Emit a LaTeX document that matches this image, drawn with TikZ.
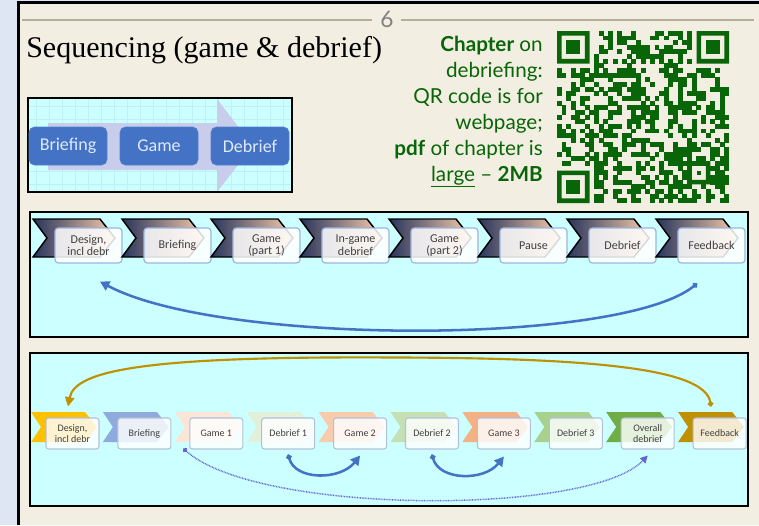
\documentclass[tikz,border=0pt]{standalone}
\usepackage{fontspec}
\setmainfont{Liberation Serif}
\newfontfamily\gill[Ligatures=TeX]{Lato}
\newfontfamily\cali{Carlito}
\usetikzlibrary{arrows.meta,calc}

\definecolor{paper}{RGB}{243,238,226}
\definecolor{strip}{RGB}{222,230,244}
\definecolor{rule}{RGB}{183,173,156}
\definecolor{qrgreen}{RGB}{8,102,8}
\definecolor{band}{RGB}{204,255,255}
\definecolor{gridc}{RGB}{190,240,244}
\definecolor{bigarrow}{RGB}{200,205,235}
\definecolor{boxblue}{RGB}{68,114,196}
\definecolor{boxtext}{RGB}{222,235,250}
\definecolor{labborder}{RGB}{157,181,224}
\definecolor{labborderB}{RGB}{180,192,218}
\definecolor{labtext}{RGB}{64,64,64}
\definecolor{chevdark}{RGB}{40,52,92}
\definecolor{chevlight}{RGB}{250,205,170}
\definecolor{cY}{RGB}{255,192,0}
\definecolor{cB}{RGB}{143,170,220}
\definecolor{cP1}{RGB}{251,229,214}
\definecolor{cG1}{RGB}{226,240,217}
\definecolor{cP2}{RGB}{248,203,173}
\definecolor{cG2}{RGB}{197,224,180}
\definecolor{cP3}{RGB}{244,177,131}
\definecolor{cG3}{RGB}{169,209,142}
\definecolor{cG4}{RGB}{112,173,71}
\definecolor{cD}{RGB}{191,144,0}
\definecolor{dotc}{RGB}{100,100,210}

\tikzset{
  greenline/.style={anchor=base east,inner sep=0pt,text=qrgreen,font=\gill\fontsize{15.5}{18}\selectfont},
  bluebox/.style={fill=boxblue,draw={rgb,255:red,85;green,128;blue,205},rounded corners=4pt,
    minimum width=58.5pt,minimum height=28.5pt,inner sep=0pt,text=boxtext,font=\cali\fontsize{13.5}{15}\selectfont},
  chevA/.style={left color=chevdark,right color=chevlight,draw=black,line width=1.1pt,line join=miter},
  labA/.style={draw=labborder,line width=0.9pt,fill=white,fill opacity=0.85,text opacity=1,
    rounded corners=2.5pt,minimum width=50.25pt,minimum height=26.25pt,inner sep=0pt,align=center,
    text=labtext,font=\cali\fontsize{9}{9.6}\selectfont},
  labB/.style={draw=labborderB,line width=0.8pt,fill=white,fill opacity=0.82,text opacity=1,
    rounded corners=2pt,minimum width=39.75pt,minimum height=23.25pt,inner sep=0pt,align=center,
    text=labtext,font=\cali\fontsize{7.5}{8.3}\selectfont},
  loopA/.style={draw=boxblue,line width=1.9pt,{Circle[length=4pt]}-{Triangle[length=7pt,width=7.5pt]}},
  loopB/.style={draw=cD,line width=1.6pt,{Circle[length=4pt]}-{Triangle[length=7pt,width=7pt]}},
  hop/.style={draw=boxblue,line width=1.9pt,{Circle[length=4pt]}-{Triangle[length=7pt,width=7.5pt]}},
  dotloop/.style={draw=dotc,line width=1.1pt,dash pattern=on 0.6pt off 0.6pt,
    {Circle[length=3.5pt]}-{Triangle[length=5.5pt,width=5.5pt]}},
}

\begin{document}
\begin{tikzpicture}[x=0.75pt,y=-0.75pt]
\useasboundingbox (0,0) rectangle (759,525);

% slide background and frame
\fill[strip] (0,0) rectangle (759,525);
\fill[paper] (18,2) rectangle (759,525);
\draw[line width=2.1pt] (18.5,525) -- (18.5,2.5) -- (759,2.5);

% header rule with page number
\draw[rule,line width=1.1pt] (22,20) -- (372,20);
\draw[rule,line width=1.1pt] (401,20) -- (754,20);
\node[text={rgb,255:red,130;green,130;blue,130},font=\gill\fontsize{17}{17}\selectfont,inner sep=0pt] (pg) at (387,19) {6};

% title
\node[anchor=base west,inner sep=0pt,font=\fontsize{22.5}{26}\selectfont] (title) at (26,57) {Sequencing (game \& debrief)};

% green note
\node[greenline] (g1) at (543,51) {\textbf{Chapter} on};
\node[greenline] (g2) at (543,77) {debriefing:};
\node[greenline] (g3) at (543,103) {QR code is for};
\node[greenline] (g4) at (543,129) {webpage;};
\node[greenline] (g5) at (543,155) {\textbf{pdf} of chapter is};
\node[greenline] (g6) at (543,181) {\underline{large} \textendash{} \textbf{2MB}};

% QR code
\def\qx{557}\def\qy{31}\def\qs{4.65}
\pgfmathsetseed{4711}
\foreach \qr in {0,...,36}{
  \foreach \qc in {0,...,36}{
    \pgfmathtruncatemacro\res{((\qr<8)&&(\qc<8))||((\qr<8)&&(\qc>28))||((\qr>28)&&(\qc<8))||((\qr>27)&&(\qr<33)&&(\qc>27)&&(\qc<33))||(\qr==6)||(\qc==6)}
    \ifnum\res=0
      \pgfmathtruncatemacro\bit{rnd<0.5}
      \ifnum\bit=1
        \fill[qrgreen] ({\qx+\qc*\qs-0.15},{\qy+\qr*\qs-0.15}) rectangle ++({\qs+0.3},{\qs+0.3});
      \fi
    \fi
  }
}
% finder patterns
\foreach \fr/\fc in {0/0,0/30,30/0}{
  \fill[qrgreen,even odd rule] ({\qx+\fc*\qs},{\qy+\fr*\qs}) rectangle ++({7*\qs},{7*\qs})
     ({\qx+(\fc+1)*\qs},{\qy+(\fr+1)*\qs}) rectangle ++({5*\qs},{5*\qs});
  \fill[qrgreen] ({\qx+(\fc+2)*\qs},{\qy+(\fr+2)*\qs}) rectangle ++({3*\qs},{3*\qs});
}
% alignment pattern
\fill[qrgreen,even odd rule] ({\qx+28*\qs},{\qy+28*\qs}) rectangle ++({5*\qs},{5*\qs})
   ({\qx+29*\qs},{\qy+29*\qs}) rectangle ++({3*\qs},{3*\qs});
\fill[qrgreen] ({\qx+30*\qs},{\qy+30*\qs}) rectangle ++(\qs,\qs);
% timing patterns
\foreach \t in {8,10,...,28}{
  \fill[qrgreen] ({\qx+\t*\qs-0.15},{\qy+6*\qs}) rectangle ++({\qs+0.3},\qs);
  \fill[qrgreen] ({\qx+6*\qs},{\qy+\t*\qs-0.15}) rectangle ++(\qs,{\qs+0.3});
}

% small process diagram
\fill[band] (28,98) rectangle (292,192);
\foreach \gx in {36,49,...,290} \draw[gridc,line width=0.25pt] (\gx,98) -- (\gx,192);
\foreach \gy in {106,119,...,190} \draw[gridc,line width=0.25pt] (28,\gy) -- (292,\gy);
\fill[bigarrow] (48,123) -- (217,123) -- (217,99) -- (253,146) -- (217,192) -- (217,170) -- (48,170) -- cycle;
\draw[line width=1.1pt] (28,98) rectangle (292,192);
\node[bluebox] (s1) at (68,146) {Briefing};
\node[bluebox] (s2) at (159,146) {Game};
\node[bluebox] (s3) at (250,146) {Debrief};

% first sequence band
\fill[band] (30,212) rectangle (748,337);
\draw[line width=1.1pt] (30,212) rectangle (748,337);
\foreach \t [count=\k] in {{Design,\\incl debr},{Briefing},{Game\\(part 1)},{In-game\\debrief},{Game\\(part 2)},{Pause},{Debrief},{Feedback}}{
  \pgfmathsetmacro\cx{88.5+89*(\k-1)}
  \path[chevA] (\cx-55.5,219) -- ++(67,0) -- ++(15,19) -- ++(-15,19) -- ++(-67,0) -- ++(14,-19) -- cycle;
  \node[labA] (a\k) at (\cx,245.5) {\t};
}
\draw[loopA] ($(a8.south)+(-14.5,20)$) .. controls +(-77,62) and +(120,64) .. ($(a1.south)+(11.5,18)$);

% second sequence band
\fill[band] (30,353) rectangle (748,506);
\draw[line width=1.1pt] (30,353) rectangle (748,506);
\foreach \t/\col [count=\k] in {{Design,\\incl debr}/cY,{Briefing}/cB,{Game 1}/cP1,{Debrief 1}/cG1,{Game 2}/cP2,{Debrief 2}/cG2,{Game 3}/cP3,{Debrief 3}/cG3,{Overall\\debrief}/cG4,{Feedback}/cD}{
  \pgfmathsetmacro\cx{72.5+71.9*(\k-1)}
  \fill[\col] (\cx-41.5,412) -- ++(54,0) -- ++(12,15) -- ++(-12,15) -- ++(-54,0) -- ++(10,-15) -- cycle;
  \node[labB] (b\k) at (\cx,433.5) {\t};
}
\coordinate (top) at ($(b1.center)!0.5!(b10.center)+(0,-76)$);
\draw[loopB] ($(b10.north)+(-8.6,-11)$) .. controls +(-6,-37) and +(204,0.5) .. (top)
   .. controls +(-246,-1.5) and +(7,-37) .. ($(b1.north)+(-4.5,-11)$);
\draw[hop] ($(b4.south)+(0,5)$) .. controls +(7,26) and +(-20,25) .. ($(b5.south)+(0,6)$);
\draw[hop] ($(b6.south)+(0,5)$) .. controls +(7,26) and +(-20,25) .. ($(b7.south)+(0,7)$);
\draw[dotloop] ($(b3.south west)+(-6,-1)$) .. controls +(76,67) and +(-57,60) .. ($(b9.south)+(0,6)$);
\end{tikzpicture}
\end{document}
